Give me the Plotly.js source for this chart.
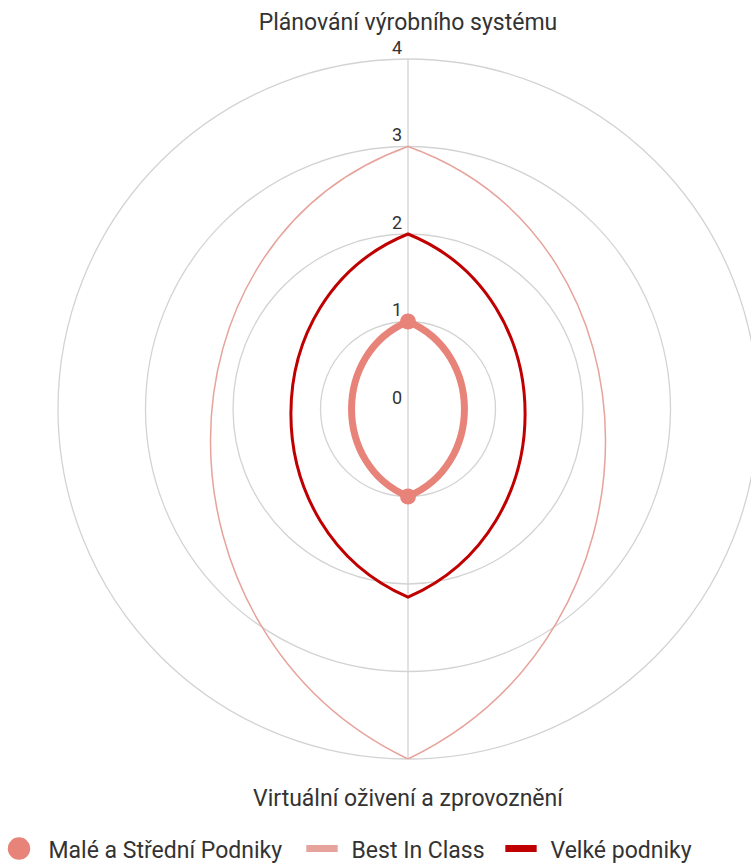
<!DOCTYPE html>
<html>
<head>
<meta charset="utf-8">
<script src="https://cdn.plot.ly/plotly-3.0.1.min.js"></script>
<style>
  html, body { margin: 0; padding: 0; background: #fff; overflow: hidden; }
  #chart { width: 760px; height: 864px; }
  g.traces { opacity: 1 !important; }
</style>
</head>
<body>
<div id="chart"></div>
<script>
// ---- data ----
const categories = ['Plánování výrobního systému', 'Virtuální oživení a zprovoznění'];
const seriesNames = ['Malé a Střední Podniky', 'Best In Class', 'Velké podniky'];
const mspValues = [1, 1];
const bestValues = [3, 4];
const velkeValues = [2, 2.15];
const radialTicks = [0, 1, 2, 3, 4];

// ---- styles ----
const colMsp = '#E8837A';
const colBest = '#E6A39B';
const colVelke = '#C00000';
const gridCol = '#D3D3D3';
const textCol = '#333333';
const FONT = 'Roboto, "Open Sans", sans-serif';
const rMax = radialTicks[radialTicks.length - 1];
const bulgeX = 0.86;   // horizontal reach of the smoothing handles
const bulgeY = 0.64;   // vertical position of the handles (fraction of value)

// smoothed closed outline between the two category points (top / bottom)
function outlinePath(vals) {
  const a = vals[0], b = vals[1];
  const p = bulgeX * (a + b) / 2;
  const q1 = bulgeY * a, q2 = -bulgeY * b;
  return 'M0,' + a +
    ' C' + p + ',' + q1 + ' ' + p + ',' + q2 + ' 0,' + (-b) +
    ' C' + (-p) + ',' + q2 + ' ' + (-p) + ',' + q1 + ' 0,' + a + ' Z';
}

const traces = [
  {
    type: 'scatterpolar', name: seriesNames[0], legend: 'legend',
    r: mspValues, theta: categories, mode: 'markers',
    marker: { color: colMsp, size: 16 }
  },
  {
    type: 'scatterpolar', name: seriesNames[1], legend: 'legend2',
    r: bestValues, theta: categories, mode: 'markers', visible: 'legendonly',
    marker: { symbol: 'line-ew', color: colBest, size: 16, line: { width: 5, color: colBest } }
  },
  {
    type: 'scatterpolar', name: seriesNames[2], legend: 'legend3',
    r: velkeValues, theta: categories, mode: 'markers', visible: 'legendonly',
    marker: { symbol: 'line-ew', color: colVelke, size: 16, line: { width: 5, color: colVelke } }
  }
];

const shapes = [
  { type: 'path', xref: 'x', yref: 'y', path: outlinePath(bestValues), line: { color: colBest, width: 1.5 }, layer: 'above' },
  { type: 'path', xref: 'x', yref: 'y', path: outlinePath(velkeValues), line: { color: colVelke, width: 3 }, layer: 'above' },
  { type: 'path', xref: 'x', yref: 'y', path: outlinePath(mspValues), line: { color: colMsp, width: 7 }, layer: 'above' }
];

const annotations = radialTicks.map(v => ({
  xref: 'x', yref: 'y', x: 0, y: v, text: String(v), showarrow: false,
  xshift: -11, yshift: 12, font: { family: FONT, size: 18, color: textCol }
}));

function legendAt(xPx) {
  return {
    orientation: 'h', x: (xPx - 58) / 700, xanchor: 'left', y: -0.128, yanchor: 'middle',
    itemwidth: 49, font: { family: FONT, size: 23, color: textCol },
    bgcolor: 'rgba(0,0,0,0)', borderwidth: 0
  };
}
const leg1 = legendAt(0); leg1.indentation = -10.5;

const layout = {
  width: 760, height: 864,
  margin: { l: 58, r: 2, t: 59, b: 105, autoexpand: false },
  paper_bgcolor: '#ffffff', plot_bgcolor: 'rgba(0,0,0,0)',
  font: { family: FONT, color: textCol, size: 23 },
  showlegend: true,
  legend: leg1,
  legend2: legendAt(292.5),
  legend3: legendAt(491.5),
  xaxis: { range: [-rMax, rMax], visible: false, fixedrange: true, domain: [0, 1] },
  yaxis: { range: [-rMax, rMax], visible: false, fixedrange: true, domain: [0, 1] },
  polar: {
    domain: { x: [0, 1], y: [0, 1] },
    bgcolor: 'rgba(0,0,0,0)',
    radialaxis: {
      range: [0, rMax], tickvals: radialTicks, showticklabels: false, ticks: '',
      showline: false, gridcolor: gridCol, gridwidth: 1.3, angle: 90
    },
    angularaxis: {
      type: 'category', categoryarray: categories, direction: 'clockwise', rotation: 90,
      showline: true, linecolor: gridCol, linewidth: 1.3,
      gridcolor: gridCol, gridwidth: 1.3,
      ticks: 'outside', ticklen: 19, tickcolor: 'rgba(0,0,0,0)',
      tickfont: { family: FONT, size: 23, color: textCol }
    }
  },
  shapes: shapes,
  annotations: annotations
};

Plotly.newPlot('chart', traces, layout, { displayModeBar: false, staticPlot: true }).then(gd => {
  // enlarge legend symbols to the reference size
  gd.querySelectorAll('.infolayer .legendpoints path').forEach(p => {
    const t = p.getAttribute('transform') || '';
    if (t.indexOf('scale') < 0) p.setAttribute('transform', t + ' scale(1.4)');
  });
});
</script>
</body>
</html>
